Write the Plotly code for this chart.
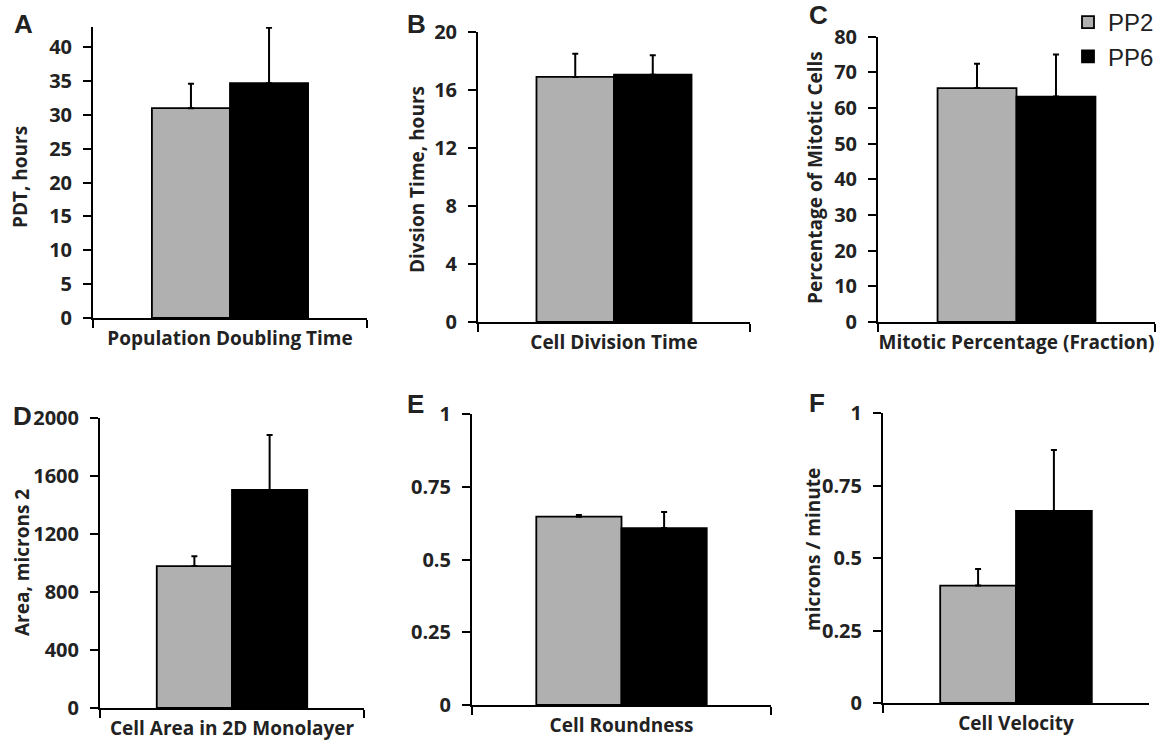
import plotly.graph_objects as go

# ---------------- data ----------------
series_names = ["PP2", "PP6"]
panel_letters = ["A", "B", "C", "D", "E", "F"]
categories = ["Population Doubling Time", "Cell Division Time",
              "Mitotic Percentage (Fraction)", "Cell Area in 2D Monolayer",
              "Cell Roundness", "Cell Velocity"]
y_titles = ["PDT, hours", "Divsion Time, hours", "Percentage of Mitotic Cells",
            "Area, microns 2", "", "microns / minute"]

pp2_values = [31.0, 16.9, 65.6, 978, 0.647, 0.405]
pp2_errors = [3.6, 1.6, 6.8, 68, 0.006, 0.057]
pp6_values = [34.7, 17.05, 63.2, 1502, 0.608, 0.662]
pp6_errors = [8.2, 1.35, 11.8, 378, 0.055, 0.21]

y_max = [43, 20, 80, 2000, 1, 1]
tickvals_A = [0, 5, 10, 15, 20, 25, 30, 35, 40]
tickvals_B = [0, 4, 8, 12, 16, 20]
tickvals_C = [0, 10, 20, 30, 40, 50, 60, 70, 80]
tickvals_D = [0, 400, 800, 1200, 1600, 2000]
tickvals_E = [0, 0.25, 0.5, 0.75, 1]
ticktext_E = ["0", "0.25", "0.5", "0.75", "1"]
tickvals_F = [0, 0.25, 0.5, 0.75, 1]
ticktext_F = ["0", "0.25", "0.5", "0.75", "1"]

tick_sets = [
    (tickvals_A, [str(v) for v in tickvals_A]),
    (tickvals_B, [str(v) for v in tickvals_B]),
    (tickvals_C, [str(v) for v in tickvals_C]),
    (tickvals_D, [str(v) for v in tickvals_D]),
    (tickvals_E, ticktext_E),
    (tickvals_F, ticktext_F),
]

# ---------------- layout geometry (pixels) ----------------
W, H = 1163, 743
x_px = [(93, 367), (478, 750), (878, 1155), (100, 364), (472, 771), (883, 1149)]
y_px = [(318, 27), (322, 32), (322, 36.7), (708, 417.7), (705, 414), (703, 413)]
letter_pos = [(23, 24), (416, 24), (818, 15), (22, 416), (415, 404), (817, 403)]
ytitle_pos = [(20, 177), (417, 180), (815, 178), (22, 563), (None, None), (813, 550)]

GRAY = "#b0b0b0"
TXT = "#222222"
FONT = "Open Sans"

fig = go.Figure()
layout = dict(
    width=W, height=H,
    margin=dict(l=0, r=0, t=0, b=0, autoexpand=False),
    paper_bgcolor="white", plot_bgcolor="white",
    barmode="group", bargap=0.43, bargroupgap=0,
    showlegend=True,
    legend=dict(x=1068 / W, y=1.0, xanchor="left", yanchor="top",
                bgcolor="rgba(0,0,0,0)", font=dict(family="Liberation Sans", size=24, color=TXT),
                tracegroupgap=0, itemwidth=30),
)
annotations = []

for i in range(6):
    sfx = "" if i == 0 else str(i + 1)
    xa, ya = "x" + sfx, "y" + sfx
    for name, vals, errs, color in [("PP2", pp2_values, pp2_errors, GRAY),
                                    ("PP6", pp6_values, pp6_errors, "black")]:
        fig.add_trace(go.Bar(
            x=[categories[i]], y=[vals[i]], name=name,
            marker=dict(color=color, line=dict(color="black", width=1.8)),
            error_y=dict(type="data", symmetric=False, array=[errs[i]], arrayminus=[0],
                         color="black", thickness=2, width=3),
            xaxis=xa, yaxis=ya, showlegend=(i == 0), legendgroup=name,
        ))
    x0, x1 = x_px[i]
    yb, yt = y_px[i]
    tv, tt = tick_sets[i]
    layout["xaxis" + sfx] = dict(
        domain=[x0 / W, x1 / W], anchor=ya, automargin=False,
        showline=True, linecolor="black", linewidth=2,
        ticks="outside", tickson="boundaries", ticklen=8, tickwidth=2, tickcolor="black",
        tickangle=0, ticklabelstandoff=2,
        tickfont=dict(family=FONT, size=19, color=TXT, weight="bold"),
        showgrid=False, zeroline=False, fixedrange=True,
    )
    layout["yaxis" + sfx] = dict(
        domain=[(H - yb) / H, (H - yt) / H], anchor=xa, automargin=False,
        range=[0, y_max[i]],
        tickvals=tv, ticktext=tt,
        showline=True, linecolor="black", linewidth=2,
        ticks="outside", ticklen=8, tickwidth=2, tickcolor="black",
        ticklabelstandoff=7,
        tickfont=dict(family=FONT, size=20, color=TXT, weight="bold"),
        showgrid=False, zeroline=False, fixedrange=True,
    )
    lx, ly = letter_pos[i]
    annotations.append(dict(text=panel_letters[i], x=lx / W, y=(H - ly) / H,
                            xref="paper", yref="paper", showarrow=False,
                            xanchor="center", yanchor="middle",
                            font=dict(family="Liberation Sans", size=26, color=TXT, weight="bold")))
    tx, ty = ytitle_pos[i]
    if y_titles[i]:
        annotations.append(dict(text=y_titles[i], x=tx / W, y=(H - ty) / H,
                                xref="paper", yref="paper", showarrow=False,
                                textangle=-90, xanchor="center", yanchor="middle",
                                font=dict(family=FONT, size=19, color=TXT, weight="bold")))

layout["annotations"] = annotations
fig.update_layout(**layout)
fig.write_html("out.html", config={"displayModeBar": False},
               post_script="document.body.style.margin='0';document.body.style.overflow='hidden';")
